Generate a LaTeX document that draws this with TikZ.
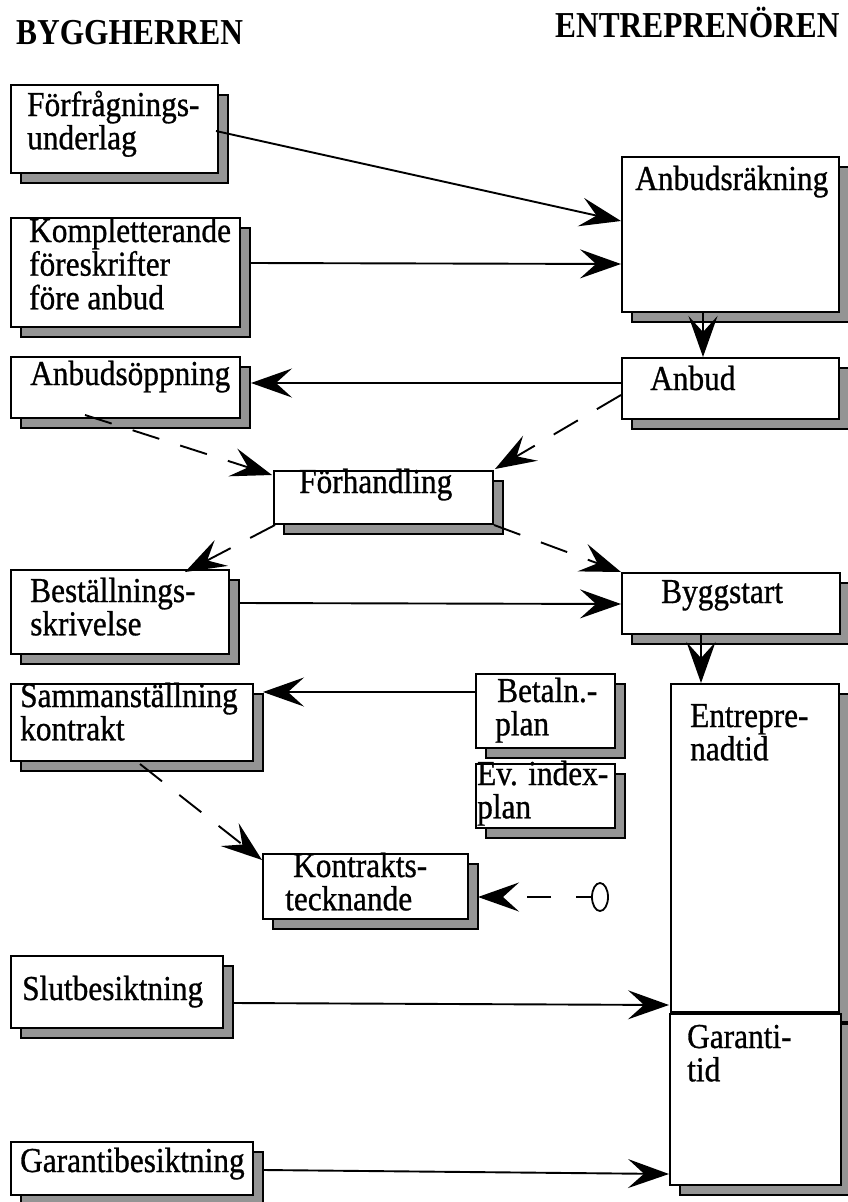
\documentclass[tikz,border=0pt]{standalone}
\usepackage{fontspec}
\setmainfont{Liberation Serif}[FakeStretch=0.895,FakeBold=0.8]
\newfontfamily\headfont{Liberation Serif}[FakeStretch=0.86]
\usetikzlibrary{shadows,arrows.meta,calc,shapes.geometric}
\newcommand{\tx}[1]{\begin{tabular}[t]{@{}l@{}}#1\end{tabular}}
\begin{document}
\begin{tikzpicture}[x=1pt,y=-1pt,
 box/.style={draw, fill=white, line width=2pt, anchor=north west, inner sep=0pt,
   drop shadow={shadow xshift=10pt, shadow yshift=-10pt, fill=black!42, draw=black, line width=2pt, opacity=1}},
 txt/.style={anchor=base west, inner sep=0pt, font=\fontsize{35}{30}\selectfont},
 head/.style={anchor=base west, inner sep=0pt, font=\headfont\fontsize{36.5}{36}\selectfont\bfseries},
 con/.style={line width=1.9pt, -{Stealth[length=41pt,width=29pt,inset=16pt]}},
 dsh/.style={con, dash pattern=on 28pt off 22pt}]
\useasboundingbox (0,0) rectangle (848,1202);
\fill[white] (0,0) rectangle (848,1202);

% headings
\node[head] (hb) at (16,44) {BYGGHERREN};
\node[head] (he) at (555,37) {ENTREPRENÖREN};

% left column boxes
\node[box, minimum width=207pt, minimum height=88pt] (fu) at (10,84) {};
\node[txt] (fut) at (27,116) {\tx{Förfrågnings-\\underlag}};

\node[box, minimum width=229pt, minimum height=109pt] (ko) at (10,217) {};
\node[txt] (kot) at (29,242) {\tx{Kompletterande\\föreskrifter\\före anbud}};

\node[box, minimum width=229pt, minimum height=61pt] (aop) at (10,356) {};
\node[txt] (aopt) at (30,385) {Anbudsöppning};

\node[box, minimum width=219pt, minimum height=53pt] (forh) at (273,470) {};
\node[txt] (forht) at (299,493) {Förhandling};

\node[box, minimum width=218pt, minimum height=84pt] (best) at (10,569) {};
\node[txt] (bestt) at (30,602) {\tx{Beställnings-\\skrivelse}};

\node[box, minimum width=242pt, minimum height=77pt] (samm) at (10,683) {};
\node[txt] (sammt) at (20,707) {\tx{Sammanställning\\kontrakt}};

\node[box, minimum width=139pt, minimum height=74pt] (betp) at (475,673) {};
\node[txt] (betpt) at (495,702) {\tx{\hspace*{2pt}Betaln.-\\plan}};

\node[box, minimum width=139pt, minimum height=64pt] (evi) at (475,763) {};
\node[txt] (evit) at (477,785) {\tx{Ev. index-\\plan}};

\node[box, minimum width=205pt, minimum height=65pt] (kont) at (262,853) {};
\node[txt] (kontt) at (285,877) {\tx{\hspace*{8pt}Kontrakts-\\tecknande}};

\node[box, minimum width=212pt, minimum height=72pt] (slut) at (10,955) {};
\node[txt] (slutt) at (22,1000) {Slutbesiktning};

\node[box, minimum width=242pt, minimum height=53pt] (gar) at (10,1141) {};
\node[txt] (gart) at (20,1172) {Garantibesiktning};

% right column boxes
\node[box, minimum width=217pt, minimum height=155pt] (anr) at (621,156) {};
\node[txt] (anrt) at (635,190) {Anbudsräkning};

\node[box, minimum width=217pt, minimum height=61pt] (anb) at (621,357) {};
\node[txt] (anbt) at (650,390) {Anbud};

\node[box, minimum width=218pt, minimum height=61pt] (bygg) at (621,572) {};
\node[txt] (byggt) at (661,603) {Byggstart};

\node[box, minimum width=168pt, minimum height=328pt] (ent) at (670,683) {};
\node[txt] (entt) at (690,727) {\tx{Entrepre-\\nadtid}};

\node[box, minimum width=171pt, minimum height=171pt] (gt) at (669,1013) {};
\node[txt] (gtt) at (687,1048) {\tx{Garanti-\\tid}};

\node[draw, ellipse, line width=1.8pt, minimum width=16pt, minimum height=28pt, inner sep=0pt] (circ) at (600,897) {};

% connectors
\draw[con] ($(fu.north east)+(-3,47)$) -- ($(anr.north west)+(0,65)$);
\draw[con] ($(ko.north east)+(10,46)$) -- ($(anr.north west)+(0,108)$);
\draw[con] ($(anr.south west)+(82,0)$) -- ($(anb.north west)+(82,0)$);
\draw[con] ($(anb.north west)+(0,26)$) -- ($(aop.north east)+(10,27)$);
\draw[dsh] ($(aop.south west)+(75,-4)$) -- ($(forh.north west)+(-1,5)$);
\draw[dsh] ($(anb.north west)+(0,38)$) -- ($(forh.north east)+(1,-1)$);
\draw[dsh] ($(forh.south west)+(2,0)$) -- ($(best.north west)+(175,3)$);
\draw[dsh] (forh.south east) -- (bygg.north west);
\draw[con] ($(best.north east)+(10,34)$) -- ($(bygg.north west)+(0,32)$);
\draw[con] ($(bygg.south west)+(80,0)$) -- ($(ent.north west)+(31,0)$);
\draw[con] ($(betp.north west)+(0,19)$) -- ($(samm.north east)+(9,9)$);
\draw[dsh] ($(samm.south west)+(130,2)$) -- ($(kont.north west)+(0,7)$);
\draw[con, dash pattern=on 15pt off 25pt on 24pt off 300pt] (circ.west) -- ($(kont.north east)+(9,44)$);
\draw[con] ($(slut.north east)+(10,48)$) -- ($(ent.south west)+(-1,-8)$);
\draw[con] ($(gar.north east)+(10,29)$) -- ($(gt.south west)+(0,-12)$);
\end{tikzpicture}
\end{document}
